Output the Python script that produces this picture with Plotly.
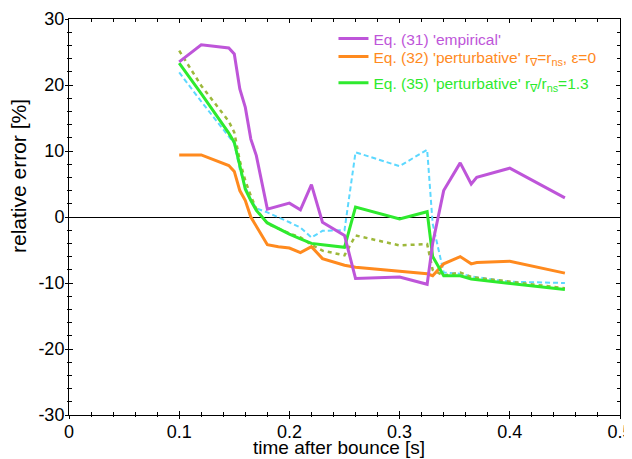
import plotly.graph_objects as go

t = [0.10, 0.12, 0.145, 0.15, 0.155, 0.16, 0.165, 0.17, 0.18, 0.19, 0.20, 0.21, 0.22, 0.23,
     0.25, 0.26, 0.30, 0.325, 0.33, 0.34, 0.355, 0.365, 0.37, 0.40, 0.45]

empirical = [23.5, 26.1, 25.6, 24.7, 19.4, 16.6, 11.8, 9.3, 1.2, 1.6, 2.1, 1.1, 4.9, -0.8,
             -2.8, -9.3, -9.1, -10.2, -4.0, 4.0, 8.2, 5.0, 6.0, 7.4, 2.9]
pert32 = [9.4, 9.4, 7.8, 6.9, 4.0, 2.5, 0.0, -1.4, -4.2, -4.5, -4.7, -5.4, -4.5, -6.3,
          -7.3, -7.6, -8.2, -8.6, -8.9, -7.1, -6.0, -7.1, -6.9, -6.7, -8.5]
pert35 = [23.3, 18.7, 12.7, 11.3, 7.8, 4.2, 2.5, 1.0, -0.9, -1.8, -2.6, -3.3, -4.0, -4.2,
          -4.6, 1.5, -0.3, 0.8, -6.0, -8.9, -8.9, -9.4, -9.5, -10.0, -11.0]
cyan_dash = [21.9, 17.5, 12.2, 11.1, 7.2, 4.5, 2.7, 1.3, 0.7, 0.0, -0.8, -1.6, -3.1, -2.1,
             -2.0, 9.8, 7.7, 10.2, -1.0, -8.4, -8.6, -9.0, -9.1, -9.8, -10.0]
olive_dash = [25.2, 19.9, 14.5, 12.8, 8.5, 5.5, 3.2, 1.2, -1.0, -1.8, -2.5, -3.1, -4.2, -5.1,
              -5.8, -2.8, -4.3, -4.1, -8.0, -8.9, -8.4, -9.1, -9.2, -9.9, -10.8]

x_ticks = [0, 0.1, 0.2, 0.3, 0.4, 0.5]
y_ticks = [-30, -20, -10, 0, 10, 20, 30]

X_TITLE = "time after bounce [s]"
Y_TITLE = "relative error [%]"

C_PURPLE = "#BE55D9"
C_ORANGE = "#FF8A1E"
C_GREEN = "#2EEA2E"
C_CYAN = "#5CD8FF"
C_OLIVE = "#9DB83A"

FONT = "Liberation Sans, Arial, Helvetica, sans-serif"

fig = go.Figure()

fig.add_trace(go.Scatter(x=t, y=cyan_dash, mode="lines", showlegend=False,
                         line=dict(color=C_CYAN, width=2, dash="5px,3px")))
fig.add_trace(go.Scatter(x=t, y=olive_dash, mode="lines", showlegend=False,
                         line=dict(color=C_OLIVE, width=2.5, dash="4px,4px")))
fig.add_trace(go.Scatter(x=t, y=pert32, mode="lines", legend="legend2",
                         name=f"<span style='color:{C_ORANGE}'>Eq. (32) 'perturbative' r<sub>∇</sub>=r<sub>ns</sub>, ε=0</span>",
                         line=dict(color=C_ORANGE, width=3)))
fig.add_trace(go.Scatter(x=t, y=pert35, mode="lines", legend="legend3",
                         name=f"<span style='color:{C_GREEN}'>Eq. (35) 'perturbative' r<sub>∇</sub>/r<sub>ns</sub>=1.3</span>",
                         line=dict(color=C_GREEN, width=3)))
fig.add_trace(go.Scatter(x=t, y=empirical, mode="lines", legend="legend",
                         name=f"<span style='color:{C_PURPLE}'>Eq. (31) 'empirical'</span>",
                         line=dict(color=C_PURPLE, width=3)))

# overlay axes for outward tick halves on bottom/left
fig.add_trace(go.Scatter(x=[0.25], y=[0], xaxis="x2", yaxis="y2", mode="markers",
                         marker=dict(opacity=0), showlegend=False, hoverinfo="skip"))

axis_common = dict(showgrid=False, linecolor="black", linewidth=1, mirror="allticks",
                   ticks="inside", tickcolor="black", tickwidth=1, ticklen=4,
                   automargin=False, ticklabeloverflow="allow",
                   tickfont=dict(family=FONT, size=18, color="black"))

leg_common = dict(x=0.48, xanchor="left", yanchor="middle", bgcolor="rgba(0,0,0,0)",
                  font=dict(family=FONT, size=15.5), itemwidth=30)

# the page body adds an 8px offset; the figure is sized/margined to compensate
fig.update_layout(
    width=628, height=451,
    margin=dict(l=61, r=16, t=11, b=44, autoexpand=False),
    paper_bgcolor="white", plot_bgcolor="white",
    font=dict(family=FONT, size=15, color="black"),
    xaxis=dict(range=[0, 0.5], tickvals=x_ticks, ticktext=[str(v) for v in x_ticks],
               zeroline=False,
               minor=dict(dtick=0.02, ticks="inside", ticklen=3, tickcolor="black"),
               **axis_common),
    yaxis=dict(range=[-30, 30], tickvals=y_ticks, ticktext=[str(v) for v in y_ticks],
               zeroline=True, zerolinecolor="black", zerolinewidth=1,
               minor=dict(dtick=2, ticks="inside", ticklen=3, tickcolor="black"),
               **axis_common),
    xaxis2=dict(range=[0, 0.5], overlaying="x", side="bottom", showgrid=False, zeroline=False,
                showline=False, ticks="outside", ticklen=3, tickcolor="black", dtick=0.1, tick0=0,
                showticklabels=False, automargin=False,
                minor=dict(dtick=0.02, ticks="outside", ticklen=1, tickcolor="black")),
    yaxis2=dict(range=[-30, 30], overlaying="y", side="left", showgrid=False, zeroline=False,
                showline=False, ticks="outside", ticklen=3, tickcolor="black", dtick=10, tick0=0,
                showticklabels=False, automargin=False,
                minor=dict(dtick=2, ticks="outside", ticklen=1, tickcolor="black")),
    legend=dict(y=0.9495, **leg_common),
    legend2=dict(y=0.904, **leg_common),
    legend3=dict(y=0.838, **leg_common),
    showlegend=True,
    annotations=[
        dict(text=X_TITLE, xref="paper", yref="paper", x=0.49, y=0, yshift=-32,
             xanchor="center", yanchor="middle", showarrow=False,
             font=dict(family=FONT, size=19, color="black")),
        dict(text=Y_TITLE, xref="paper", yref="paper", x=0, y=0.6035, xshift=-51,
             xanchor="center", yanchor="middle", textangle=-90, showarrow=False,
             font=dict(family=FONT, size=21, color="black")),
    ],
)

fig.write_html("out.html")
